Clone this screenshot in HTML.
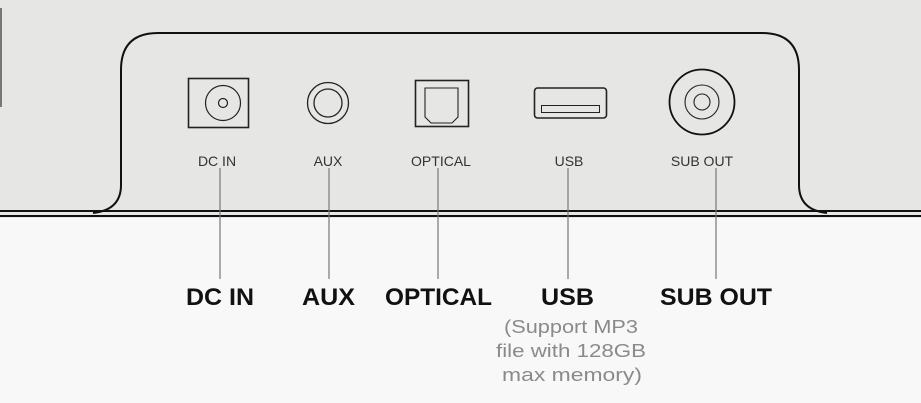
<!DOCTYPE html>
<html><head><meta charset="utf-8"><style>
body{margin:0;width:921px;height:403px;overflow:hidden;background:#f8f8f8}
svg{display:block}
</style></head><body>
<svg width="921" height="403" viewBox="0 0 921 403" xmlns="http://www.w3.org/2000/svg">
<rect x="0" y="0" width="921" height="218" fill="#e6e6e5"/>
<rect x="0" y="218" width="921" height="185" fill="#f8f8f8"/>
<rect x="0" y="8" width="2" height="99" fill="#777"/>
<path d="M93,213 Q121,210 121,185 L121,70 Q121,33 158,33 L762,33 Q799,33 799,70 L799,185 Q799,210 827,213" fill="none" stroke="#111" stroke-width="2"/>
<line x1="0" y1="211" x2="921" y2="211" stroke="#111" stroke-width="2"/>
<line x1="0" y1="216" x2="921" y2="216" stroke="#111" stroke-width="2"/>
<rect x="188.5" y="78.5" width="60" height="49" fill="none" stroke="#222" stroke-width="1.6"/>
<circle cx="223" cy="103" r="17.5" fill="none" stroke="#222" stroke-width="1.2"/>
<circle cx="223" cy="103" r="4.5" fill="none" stroke="#222" stroke-width="1.2"/>
<circle cx="328" cy="103" r="20.5" fill="none" stroke="#222" stroke-width="1.3"/>
<circle cx="328" cy="103" r="14" fill="none" stroke="#222" stroke-width="1.3"/>
<rect x="415.5" y="80.5" width="53" height="46" fill="none" stroke="#222" stroke-width="1.6"/>
<path d="M425,88 L458,88 L458,117 L452,123 L431,123 L425,117 Z" fill="none" stroke="#222" stroke-width="1.1"/>
<rect x="534.5" y="88" width="72" height="30" rx="3" fill="none" stroke="#222" stroke-width="1.6"/>
<rect x="541.5" y="105.5" width="58" height="7" fill="none" stroke="#222" stroke-width="1"/>
<circle cx="702" cy="102" r="32.5" fill="none" stroke="#111" stroke-width="1.8"/>
<circle cx="702" cy="102" r="17" fill="none" stroke="#222" stroke-width="1.1"/>
<circle cx="702" cy="102" r="8" fill="none" stroke="#222" stroke-width="1.1"/>
<g font-family="Liberation Sans, sans-serif" font-size="14" fill="#333" text-anchor="middle">
<text x="217" y="166">DC IN</text>
<text x="328" y="166">AUX</text>
<text x="441" y="166">OPTICAL</text>
<text x="569" y="166">USB</text>
<text x="702" y="166">SUB OUT</text>
</g>
<g stroke="#777" stroke-width="1.2">
<line x1="220" y1="168" x2="220" y2="279"/>
<line x1="329" y1="168" x2="329" y2="279"/>
<line x1="438" y1="168" x2="438" y2="279"/>
<line x1="568" y1="168" x2="568" y2="279"/>
<line x1="716" y1="168" x2="716" y2="279"/>
</g>
<g font-family="Liberation Sans, sans-serif" font-size="24.5" font-weight="bold" fill="#111" lengthAdjust="spacingAndGlyphs">
<text x="186" y="305" textLength="68" lengthAdjust="spacingAndGlyphs">DC IN</text>
<text x="302" y="305" textLength="53" lengthAdjust="spacingAndGlyphs">AUX</text>
<text x="385" y="305" textLength="107" lengthAdjust="spacingAndGlyphs">OPTICAL</text>
<text x="541" y="305" textLength="53" lengthAdjust="spacingAndGlyphs">USB</text>
<text x="660" y="305" textLength="112" lengthAdjust="spacingAndGlyphs">SUB OUT</text>
</g>
<g font-family="Liberation Sans, sans-serif" font-size="18" fill="#8a8a8a">
<text x="504" y="333" textLength="134" lengthAdjust="spacingAndGlyphs">(Support MP3</text>
<text x="496" y="357" textLength="150" lengthAdjust="spacingAndGlyphs">file with 128GB</text>
<text x="502" y="381" textLength="140" lengthAdjust="spacingAndGlyphs">max memory)</text>
</g>
</svg>
</body></html>
